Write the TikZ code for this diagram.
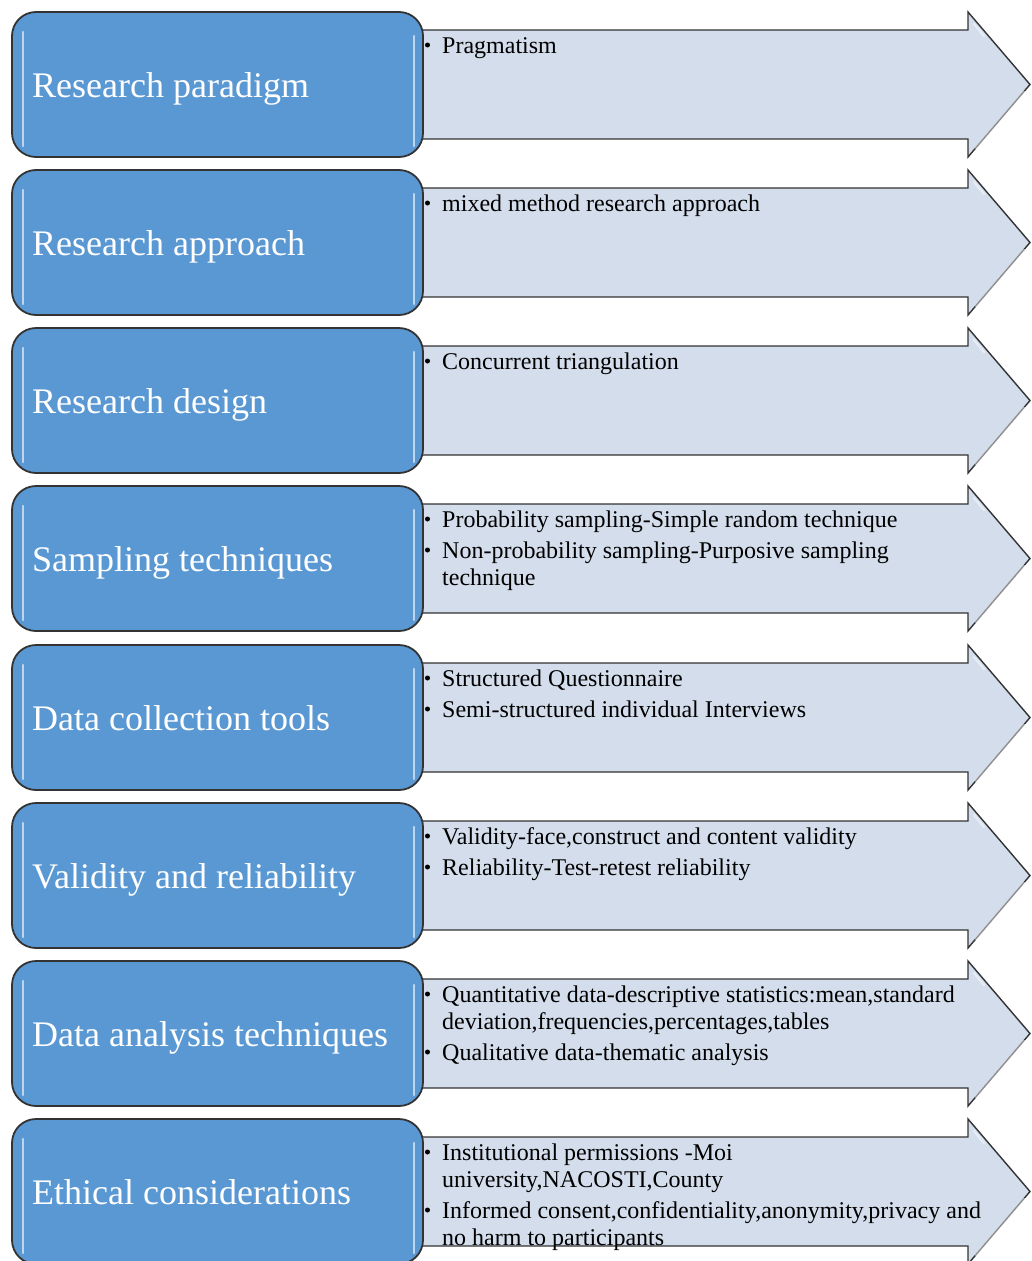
\documentclass[tikz,border=0pt]{standalone}
\usepackage{fontspec}
\setmainfont{Liberation Serif}
\begin{document}
\begin{tikzpicture}[x=1pt,y=-1pt]
\definecolor{boxblue}{HTML}{5A98D3}
\definecolor{arrowfill}{HTML}{D3DDEB}
\definecolor{edge}{HTML}{333333}
\tikzset{
  stagebox/.style={draw=edge, line width=1.8pt, fill=boxblue, rounded corners=24pt},
  stagearrow/.style={draw=edge, line width=1.4pt, fill=arrowfill, line join=miter},
  stagetitle/.style={anchor=base west, text=white, font=\fontsize{36}{40}\selectfont, inner sep=0pt},
  itemtext/.style={anchor=base west, font=\fontsize{24}{27}\selectfont, inner sep=0pt},
  itemdot/.style={circle, fill=black, inner sep=0pt, minimum size=5pt},
  gloss/.style={draw=white, line width=2.6pt, opacity=0.6, line cap=round},
  softgloss/.style={draw=white, line width=2.4pt, opacity=0.45, line cap=round},
}
\useasboundingbox (0,0) rectangle (1031,1261);

% one stage: arrow behind, rounded title box in front
% #1 = top edge, #2 = node name, #3 = title
\newcommand{\stagerow}[3]{%
  \draw[stagearrow] (410,#1+18) -- (968,#1+18) -- (968,#1) -- (1030,#1+72.5)
     -- (968,#1+145) -- (968,#1+127) -- (410,#1+127) -- cycle;
  \draw[softgloss] (1024,#1+80) -- (976,#1+136);
  \draw[softgloss] (974,#1+12) -- (984,#1+24);
  \draw[stagebox] (12,#1) rectangle (423,#1+145);
  \draw[gloss] (23,#1+20) -- (23,#1+134);
  \draw[gloss] (414,#1+24) -- (414,#1+134);
  \node[stagetitle] (#2) at (32,#1+85) {#3};
}
% bullet in front of the first line of an item, #1 = baseline, #2 = name
\newcommand{\itemdotat}[2]{\node[itemdot] (#2) at (427.5,#1-8) {};}

\stagerow{12}{paradigm}{Research paradigm}
\stagerow{170}{approach}{Research approach}
\stagerow{328}{design}{Research design}
\stagerow{486}{sampling}{Sampling techniques}
\stagerow{645}{tools}{Data collection tools}
\stagerow{803}{validity}{Validity and reliability}
\stagerow{961}{analysis}{Data analysis techniques}
\stagerow{1119}{ethics}{Ethical considerations}

% Research paradigm
\itemdotat{53}{b1a}
\node[itemtext] (p1) at (442,53) {Pragmatism};

% Research approach
\itemdotat{211}{b2a}
\node[itemtext] (p2) at (442,211) {mixed method research approach};

% Research design
\itemdotat{369}{b3a}
\node[itemtext] (p3) at (442,369) {Concurrent triangulation};

% Sampling techniques
\itemdotat{527}{b4a}
\node[itemtext] (p4a) at (442,527) {Probability sampling-Simple random technique};
\itemdotat{558}{b4b}
\node[itemtext] (p4b) at (442,558) {Non-probability sampling-Purposive sampling};
\node[itemtext] (p4c) at (442,585) {technique};

% Data collection tools
\itemdotat{686}{b5a}
\node[itemtext] (p5a) at (442,686) {Structured Questionnaire};
\itemdotat{717}{b5b}
\node[itemtext] (p5b) at (442,717) {Semi-structured individual Interviews};

% Validity and reliability
\itemdotat{844}{b6a}
\node[itemtext] (p6a) at (442,844) {Validity-face,construct and content validity};
\itemdotat{875}{b6b}
\node[itemtext] (p6b) at (442,875) {Reliability-Test-retest reliability};

% Data analysis techniques
\itemdotat{1002}{b7a}
\node[itemtext] (p7a) at (442,1002) {Quantitative data-descriptive statistics:mean,standard};
\node[itemtext] (p7b) at (442,1029) {deviation,frequencies,percentages,tables};
\itemdotat{1060}{b7b}
\node[itemtext] (p7c) at (442,1060) {Qualitative data-thematic analysis};

% Ethical considerations
\itemdotat{1160}{b8a}
\node[itemtext] (p8a) at (442,1160) {Institutional permissions -Moi};
\node[itemtext] (p8b) at (442,1187) {university,NACOSTI,County};
\itemdotat{1218}{b8b}
\node[itemtext] (p8c) at (442,1218) {Informed consent,confidentiality,anonymity,privacy and};
\node[itemtext] (p8d) at (442,1245) {no harm to participants};
\end{tikzpicture}
\end{document}
